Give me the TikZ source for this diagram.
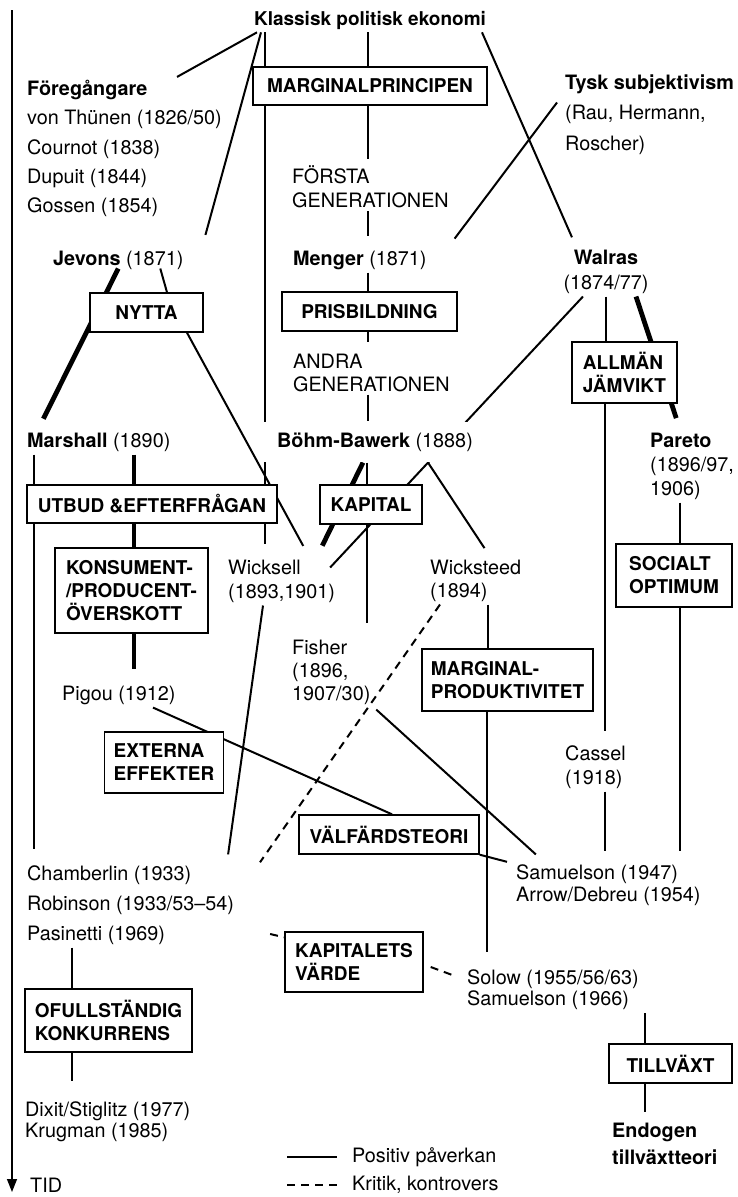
\documentclass[tikz,border=0pt]{standalone}
\usepackage{fontspec}
\setmainfont{TeX Gyre Heros}
\usetikzlibrary{arrows.meta}
\pgfdeclarelayer{bg}
\pgfsetlayers{bg,main}
\newcommand{\lsp}[1]{\fontsize{19.8}{#1}\selectfont}
\newcommand{\boxfont}{\fontsize{19}{23}\selectfont\bfseries}

\begin{document}
\begin{tikzpicture}[x=1pt,y=-1pt,
  author/.style={anchor=west,align=left,inner xsep=2pt,inner ysep=3pt,font=\lsp{24}},
  concept/.style={draw,line width=1.4pt,fill=white,align=left,inner xsep=9pt,font=\boxfont},
  positive/.style={line width=2pt},
  strongpositive/.style={line width=4.8pt},
  critique/.style={line width=2pt,dash pattern=on 8pt off 6pt}]
   \useasboundingbox (0,0) rectangle (737,1197);
   % time axis
   \draw[line width=1.4pt,-{Triangle[width=10pt,length=13pt]}] (12,10) -- (12,1192);
   \node[author] (tid) at (28,1185) {TID};

   \node[author,anchor=center,font=\boxfont] (klassisk) at (370,20) {Klassisk politisk ekonomi};
   \node[concept,minimum width=234pt,minimum height=38pt,align=center] (marginal) at (370,86) {MARGINALPRINCIPEN};
   \node[author,font=\lsp{29.3}] (foreg) at (25,148.5) {\textbf{Föregångare}\\von Thünen (1826/50)\\Cournot (1838)\\Dupuit (1844)\\Gossen (1854)};
   \node[author,font=\lsp{30.5}] (tysk) at (563,114.5) {\textbf{Tysk subjektivism}\\(Rau, Hermann,\\Roscher)};
   \node[author] (forsta) at (290,187) {FÖRSTA\\GENERATIONEN};
   \node[author] (jevons) at (51,260) {\textbf{Jevons} (1871)};
   \node[author] (menger) at (291,260) {\textbf{Menger} (1871)};
   \node[author,anchor=center,align=center,font=\lsp{25}] (walras) at (606,271.5) {\textbf{Walras}\\(1874/77)};
   \node[concept,minimum width=113pt,minimum height=39pt,align=center] (nytta) at (146.5,312.5) {NYTTA};
   \node[concept,minimum width=175pt,minimum height=39pt,align=center] (prisbildning) at (369.5,311.5) {PRISBILDNING};
   \node[author,font=\lsp{23}] (andra) at (291,372.5) {ANDRA\\GENERATIONEN};
   \node[concept,minimum width=105pt,minimum height=61pt] (allman) at (624.5,372.5) {ALLMÄN\\JÄMVIKT};
   \node[author] (marshall) at (25,442) {\textbf{Marshall} (1890)};
   \node[author,fill=white,inner xsep=14pt,inner ysep=11pt] (bohm) at (263,442) {\textbf{Böhm-Bawerk} (1888)};
   \node[author] (pareto) at (648,466) {\textbf{Pareto}\\(1896/97,\\1906)};
   \node[concept,minimum width=250pt,minimum height=38pt,align=center] (utbud) at (152,504) {UTBUD \&EFTERFRÅGAN};
   \node[concept,minimum width=102pt,minimum height=39pt,align=center] (kapital) at (371,504.5) {KAPITAL};
   \node[concept,minimum width=153pt,minimum height=85pt] (konsument) at (131.5,590.5) {KONSUMENT-\\/PRODUCENT-\\ÖVERSKOTT};
   \node[author] (wicksell) at (226,581) {Wicksell\\(1893,1901)};
   \node[author,font=\lsp{23}] (wicksteed) at (428,580.5) {Wicksteed\\(1894)};
   \node[concept,minimum width=116pt,minimum height=63pt] (socialt) at (674,575.5) {SOCIALT\\OPTIMUM};
   \node[author,font=\lsp{23}] (fisher) at (290,672) {Fisher\\(1896,\\1907/30)};
   \node[concept,minimum width=171pt,minimum height=62pt] (margprod) at (507.5,680) {MARGINAL-\\PRODUKTIVITET};
   \node[author] (pigou) at (60,695) {Pigou (1912)};
   \node[concept,minimum width=118pt,minimum height=61pt] (externa) at (164,762.5) {EXTERNA\\EFFEKTER};
   \node[author] (cassel) at (563,767) {Cassel\\(1918)};
   \node[concept,minimum width=180pt,minimum height=39pt,align=center] (valfard) at (389,834.5) {VÄLFÄRDSTEORI};
   \node[author,font=\lsp{30}] (chamberlin) at (25,905) {Chamberlin (1933)\\Robinson (1933/53--54)\\Pasinetti (1969)};
   \node[author,font=\lsp{22}] (samuelson) at (514,885.5) {Samuelson (1947)\\Arrow/Debreu (1954)};
   \node[concept,minimum width=138pt,minimum height=60pt] (kapvarde) at (354,962) {KAPITALETS\\VÄRDE};
   \node[author,font=\lsp{21}] (solow) at (465,990) {Solow (1955/56/63)\\Samuelson (1966)};
   \node[concept,minimum width=167pt,minimum height=63pt] (ofull) at (108.5,1020.5) {OFULLSTÄNDIG\\KONKURRENS};
   \node[concept,minimum width=123pt,minimum height=39pt,align=center] (tillvaxt) at (670.5,1063.5) {TILLVÄXT};
   \node[author,font=\lsp{21}] (dixit) at (23,1122) {Dixit/Stiglitz (1977)\\Krugman (1985)};
   \node[author,font=\lsp{27}\bfseries] (endogen) at (610,1143.5) {Endogen\\tillväxtteori};

   % legend
   \node[author] (legpos) at (350,1157) {Positiv påverkan};
   \node[author] (legkrit) at (350,1185) {Kritik, kontrovers};
   \draw[positive] ([xshift=-63pt]legpos.west) -- ([xshift=-13pt]legpos.west);
   \draw[critique] ([xshift=-63pt]legkrit.west) -- ([xshift=-13pt]legkrit.west);

   \begin{pgfonlayer}{bg}
   \draw[positive] (klassisk.south -| 257,0) -- (foreg.north -| 177,0);
   \draw[positive,shorten >=13pt] (klassisk.south -| 261,0) -- (jevons.north -| 202,0);
   \draw[positive,shorten >=12pt] (klassisk.south -| 265,0) -- (wicksell.north -| 265,0);
   \draw[positive] (klassisk.south -| 368,0) -- (marginal.north -| 368,0);
   \draw[positive,shorten >=4pt] (marginal.south -| 368,0) -- (forsta.north -| 368,0);
   \draw[positive,shorten >=11pt] (forsta.south -| 368,0) -- (menger.north -| 368,0);
   \draw[positive] (menger.south -| 368,0) -- (prisbildning.north -| 368,0);
   \draw[positive,shorten >=8pt] (prisbildning.south -| 368,0) -- (andra.north -| 368,0);
   \draw[positive] (andra.south -| 368,0) -- (bohm.north -| 368,0);
   \draw[positive,shorten >=10pt] (klassisk.south -| 482,0) -- (walras.north -| 576,0);
   \draw[positive,shorten >=11pt] ([xshift=-6pt,yshift=12pt]tysk.west) -- (menger.north -| 448,0);
   \draw[strongpositive,shorten >=12pt] ([yshift=4pt]jevons.south) -- (marshall.north -| 38,0);
   \draw[positive] ([xshift=42pt,yshift=4pt]jevons.south) -- (nytta.north -| 167,0);
   \draw[positive,shorten >=12pt] (nytta.south -| 187,0) -- (wicksell.north -| 309,0);
   \draw[positive] (walras.south -| 583,0) -- ([xshift=-7pt,yshift=-11pt]wicksell.north east);
   \draw[positive] (walras.south -| 606,0) -- (allman.north -| 606,0);
   \draw[positive,shorten >=11pt] (allman.south -| 605,0) -- (cassel.north -| 605,0);
   \draw[positive,shorten >=11pt] (cassel.south -| 605,0) -- (samuelson.north -| 605,0);
   \draw[strongpositive,shorten >=12pt] (walras.south -| 636,0) -- (pareto.north -| 680,0);
   \draw[positive] (pareto.south -| 680,0) -- (socialt.north -| 680,0);
   \draw[positive,shorten >=11pt] (socialt.south -| 680,0) -- (samuelson.north -| 680,0);
   \draw[positive,shorten >=13pt] (marshall.south -| 34,0) -- (chamberlin.north -| 34,0);
   \draw[strongpositive,shorten >=13pt] (marshall.south -| 134,0) -- (pigou.north -| 134,0);
   \draw[strongpositive,shorten >=12pt] (bohm.south -| 363,0) -- (wicksell.north -| 317,0);
   \draw[positive,shorten >=13pt] (bohm.south -| 367,0) -- (fisher.north -| 367,0);
   \draw[positive,shorten >=10pt] (bohm.south -| 428,0) -- (wicksteed.north -| 490,0);
   \draw[positive] (wicksteed.south -| 488,0) -- (margprod.north -| 488,0);
   \draw[positive,shorten >=15pt] (margprod.south -| 487,0) -- (solow.north -| 487,0);
   \draw[critique] (wicksteed.south -| 440,0) -- (chamberlin.north -| 260,0);
   \draw[positive,shorten <=3pt,shorten >=11pt] (fisher.south -| 374,0) -- (samuelson.north -| 544,0);
   \draw[positive] (pigou.south -| 153,0) -- (valfard.north -| 392,0);
   \draw[positive] (valfard.south east) -- ([xshift=-7pt]samuelson.north west);
   \draw[positive,shorten >=8pt] (wicksell.south -| 263,0) -- (chamberlin.north -| 227,0);
   \draw[critique] ([xshift=34pt,yshift=-29pt]chamberlin.east) -- ([yshift=-6pt]kapvarde.north west);
   \draw[critique] ([xshift=7pt,yshift=-5pt]kapvarde.east) -- ([xshift=-10pt,yshift=14pt]solow.west);
   \draw[positive] (chamberlin.south -| 72,0) -- (ofull.north -| 72,0);
   \draw[positive,shorten >=18pt] (ofull.south -| 72,0) -- (dixit.north -| 72,0);
   \draw[positive] (solow.south -| 645,0) -- (tillvaxt.north -| 645,0);
   \draw[positive,shorten >=8pt] (tillvaxt.south -| 645,0) -- (endogen.north -| 645,0);
   \end{pgfonlayer}
\end{tikzpicture}
\end{document}
